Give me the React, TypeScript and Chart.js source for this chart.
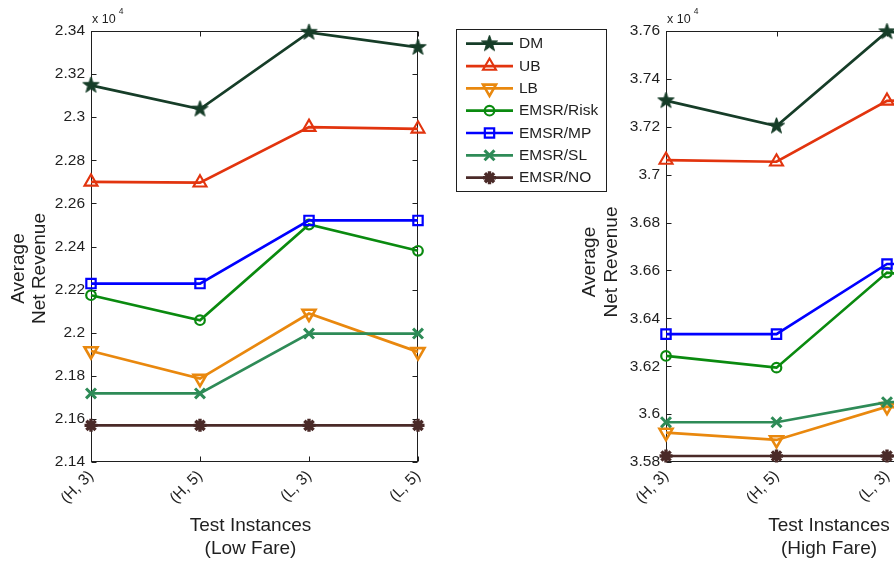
import React, { useEffect, useRef } from 'react';
import { Chart, registerables } from 'chart.js';
import { drawPoint } from 'chart.js/helpers';

Chart.register(...registerables);

const FONT = "'Liberation Sans', Arial, Helvetica, sans-serif";
const INK = '#1f1f1f';

// ---- data ---------------------------------------------------------------
const CATEGORIES = ['(H, 3)', '(H, 5)', '(L, 3)', '(L, 5)'];
const SERIES = ['DM', 'UB', 'LB', 'EMSR/Risk', 'EMSR/MP', 'EMSR/SL', 'EMSR/NO'];

// Average net revenue, low-fare instances
const LOW_DM = [23148, 23038, 23394, 23324];
const LOW_UB = [22700, 22696, 22954, 22946];
const LOW_LB = [21915, 21787, 22089, 21911];
const LOW_RISK = [22174, 22058, 22502, 22380];
const LOW_MP = [22228, 22228, 22521, 22521];
const LOW_SL = [21718, 21718, 21996, 21996];
const LOW_NO = [21570, 21570, 21570, 21570];

// Average net revenue, high-fare instances
const HIGH_DM = [37309, 37203, 37597, 37560];
const HIGH_UB = [37061, 37054, 37308, 37320];
const HIGH_LB = [35923, 35892, 36031, 35990];
const HIGH_RISK = [36243, 36194, 36591, 36540];
const HIGH_MP = [36334, 36334, 36627, 36627];
const HIGH_SL = [35966, 35966, 36050, 36050];
const HIGH_NO = [35825, 35825, 35825, 35825];

// y-axis ranges (raw units, labelled in units of 10^4)
const LOW_Y_MIN = 21400;
const LOW_Y_MAX = 23400;
const HIGH_Y_MIN = 35800;
const HIGH_Y_MAX = 37600;
const Y_STEP = 200;

const X_TITLE = 'Test Instances';
const Y_TITLE = ['Average', 'Net Revenue'];
const LOW_SUBTITLE = '(Low Fare)';
const HIGH_SUBTITLE = '(High Fare)';

// ---- marker styles ------------------------------------------------------
function makeStar(color: string, outer: number, inner: number) {
  const size = Math.ceil(outer * 2 + 2);
  const c = document.createElement('canvas');
  c.width = size;
  c.height = size;
  const g = c.getContext('2d')!;
  const cx = size / 2;
  const cy = size / 2;
  g.beginPath();
  for (let k = 0; k < 10; k++) {
    const r = k % 2 === 0 ? outer : inner;
    const a = -Math.PI / 2 + (k * Math.PI) / 5;
    const px = cx + r * Math.cos(a);
    const py = cy + r * Math.sin(a);
    if (k === 0) g.moveTo(px, py);
    else g.lineTo(px, py);
  }
  g.closePath();
  g.fillStyle = color;
  g.fill();
  g.strokeStyle = color;
  g.lineWidth = 1;
  g.stroke();
  return c;
}

const STYLES = [
  { color: '#163d28', point: 'pentagram', radius: 8.5, border: 1, rotation: 0 },
  { color: '#e2340e', point: 'triangle', radius: 7.5, border: 2.1, rotation: 0 },
  { color: '#e9880e', point: 'triangle', radius: 7.5, border: 2.6, rotation: 180 },
  { color: '#0a8a0f', point: 'circle', radius: 4.8, border: 2.2, rotation: 0 },
  { color: '#0000ff', point: 'rect', radius: 6.6, border: 2.2, rotation: 0 },
  { color: '#2e8b57', point: 'crossRot', radius: 7, border: 3, rotation: 0 },
  { color: '#4a2a28', point: 'star', radius: 6.5, border: 3.4, rotation: 0 },
];

function pointStyleFor(i: number): any {
  const s = STYLES[i];
  if (s.point === 'pentagram') return makeStar(s.color, s.radius, s.radius * 0.4);
  return s.point;
}

// ---- plugins ------------------------------------------------------------
const framePlugin = {
  id: 'panelFrame',
  beforeDatasetsDraw(chart: any) {
    const { ctx, chartArea, scales } = chart;
    const l = Math.round(chartArea.left) + 0.5;
    const r = Math.round(chartArea.right) - 0.5;
    const t = Math.round(chartArea.top) + 0.5;
    const b = Math.round(chartArea.bottom) - 0.5;
    const tick = 5;
    ctx.save();
    ctx.strokeStyle = INK;
    ctx.lineWidth = 1;
    ctx.strokeRect(l, t, r - l, b - t);
    ctx.beginPath();
    scales.y.ticks.forEach((tk: any) => {
      const py = Math.round(scales.y.getPixelForValue(tk.value)) + 0.5;
      ctx.moveTo(l, py);
      ctx.lineTo(l + tick, py);
      ctx.moveTo(r, py);
      ctx.lineTo(r - tick, py);
    });
    scales.x.ticks.forEach((_tk: any, i: number) => {
      const px = Math.round(scales.x.getPixelForTick(i)) + 0.5;
      ctx.moveTo(px, t);
      ctx.lineTo(px, t + tick);
      ctx.moveTo(px, b);
      ctx.lineTo(px, b - tick);
    });
    ctx.stroke();
    ctx.restore();
  },
};

const textPlugin = {
  id: 'panelText',
  afterDraw(chart: any, _args: any, opts: any) {
    const { ctx, chartArea } = chart;
    ctx.save();
    ctx.fillStyle = INK;

    // exponent marker above the y axis
    ctx.font = `12.5px ${FONT}`;
    ctx.textAlign = 'left';
    ctx.textBaseline = 'alphabetic';
    const expX = chartArea.left + 1;
    ctx.fillText('x 10', expX, 23);
    const w = ctx.measureText('x 10').width;
    ctx.font = `8.5px ${FONT}`;
    ctx.fillText('4', expX + w + 3, 14);

    // x-axis title
    ctx.font = `19px ${FONT}`;
    ctx.textAlign = 'center';
    ctx.fillText(X_TITLE, opts.xTitleX, 531);
    ctx.fillText(opts.subtitle, opts.xTitleX, 553.5);

    // y-axis title, rotated
    Y_TITLE.forEach((line: string, i: number) => {
      ctx.save();
      ctx.translate(opts.yTitleX[i], opts.yTitleY);
      ctx.rotate(-Math.PI / 2);
      ctx.textAlign = 'center';
      ctx.textBaseline = 'alphabetic';
      ctx.fillText(line, 0, 0);
      ctx.restore();
    });
    ctx.restore();
  },
};

const legendPlugin = {
  id: 'boxLegend',
  afterDraw(chart: any, _args: any, opts: any) {
    if (!opts.show) return;
    const { ctx } = chart;
    ctx.save();
    ctx.fillStyle = '#ffffff';
    ctx.fillRect(456, 29, 151, 163);
    ctx.strokeStyle = INK;
    ctx.lineWidth = 1;
    ctx.strokeRect(456.5, 29.5, 150, 162);
    chart.data.datasets.forEach((ds: any, i: number) => {
      const y = 43.7 + i * 22.33;
      ctx.strokeStyle = ds.borderColor;
      ctx.lineWidth = ds.borderWidth;
      ctx.beginPath();
      ctx.moveTo(466, y);
      ctx.lineTo(513, y);
      ctx.stroke();
      ctx.fillStyle = 'rgba(0,0,0,0)';
      ctx.strokeStyle = ds.pointBorderColor;
      ctx.lineWidth = ds.pointBorderWidth;
      drawPoint(
        ctx,
        {
          pointStyle: ds.pointStyle,
          radius: ds.pointRadius,
          borderWidth: ds.pointBorderWidth,
          rotation: ds.pointRotation,
        } as any,
        489.5,
        y
      );
      ctx.fillStyle = INK;
      ctx.font = `15.5px ${FONT}`;
      ctx.textAlign = 'left';
      ctx.textBaseline = 'middle';
      ctx.fillText(ds.label, 519, y + 0.5);
    });
    ctx.restore();
  },
};

// ---- chart config ------------------------------------------------------
function trimLabel(v: number) {
  return String(parseFloat((v / 1e4).toFixed(2)));
}

function buildConfig(p: {
  series: number[][];
  yMin: number;
  yMax: number;
  axisWidth: number;
  padRight: number;
  subtitle: string;
  xTitleX: number;
  yTitleX: number[];
  yTitleY: number;
  legend: boolean;
}): any {
  return {
    type: 'line',
    data: {
      labels: CATEGORIES,
      datasets: p.series.map((vals, i) => ({
        label: SERIES[i],
        data: vals,
        borderColor: STYLES[i].color,
        borderWidth: 2.7,
        pointStyle: pointStyleFor(i),
        pointRadius: STYLES[i].radius,
        pointBorderWidth: STYLES[i].border,
        pointBorderColor: STYLES[i].color,
        pointBackgroundColor: 'rgba(0,0,0,0)',
        pointRotation: STYLES[i].rotation,
        tension: 0,
        clip: false,
        order: SERIES.length - 1 - i,
      })),
    },
    options: {
      responsive: false,
      maintainAspectRatio: false,
      animation: false,
      events: [],
      layout: { padding: { left: 0, top: 31, right: p.padRight, bottom: 0 } },
      plugins: {
        legend: { display: false },
        tooltip: { enabled: false },
        panelText: {
          subtitle: p.subtitle,
          xTitleX: p.xTitleX,
          yTitleX: p.yTitleX,
          yTitleY: p.yTitleY,
        },
        boxLegend: { show: p.legend },
      },
      scales: {
        x: {
          type: 'category',
          offset: false,
          grid: { display: false, drawTicks: false },
          border: { display: false },
          ticks: {
            minRotation: 45,
            maxRotation: 45,
            autoSkip: false,
            padding: 5,
            color: INK,
            font: { size: 15.5, family: FONT },
          },
          afterFit: (s: any) => {
            s.height = 101;
          },
        },
        y: {
          type: 'linear',
          min: p.yMin,
          max: p.yMax,
          grid: { display: false, drawTicks: false },
          border: { display: false },
          ticks: {
            stepSize: Y_STEP,
            padding: 6,
            color: INK,
            font: { size: 15.5, family: FONT },
            callback: (v: any) => trimLabel(Number(v)),
          },
          afterFit: (s: any) => {
            s.width = p.axisWidth;
          },
        },
      },
    },
    plugins: [framePlugin, textPlugin, legendPlugin],
  };
}

export default function App() {
  const lowRef = useRef<HTMLCanvasElement>(null);
  const highRef = useRef<HTMLCanvasElement>(null);

  useEffect(() => {
    Chart.defaults.font.family = FONT;
    const low = new Chart(
      lowRef.current!,
      buildConfig({
        series: [LOW_DM, LOW_UB, LOW_LB, LOW_RISK, LOW_MP, LOW_SL, LOW_NO],
        yMin: LOW_Y_MIN,
        yMax: LOW_Y_MAX,
        axisWidth: 91,
        padRight: 202,
        subtitle: LOW_SUBTITLE,
        xTitleX: 250.5,
        yTitleX: [23.5, 45],
        yTitleY: 268.5,
        legend: true,
      })
    );
    const high = new Chart(
      highRef.current!,
      buildConfig({
        series: [HIGH_DM, HIGH_UB, HIGH_LB, HIGH_RISK, HIGH_MP, HIGH_SL, HIGH_NO],
        yMin: HIGH_Y_MIN,
        yMax: HIGH_Y_MAX,
        axisWidth: 106,
        padRight: 42.5,
        subtitle: HIGH_SUBTITLE,
        xTitleX: 269,
        yTitleX: [34.5, 56.5],
        yTitleY: 262,
        legend: false,
      })
    );
    return () => {
      low.destroy();
      high.destroy();
    };
  }, []);

  return (
    <div
      style={{
        position: 'fixed',
        left: 0,
        top: 0,
        width: 894,
        height: 563,
        overflow: 'hidden',
        background: '#ffffff',
      }}
    >
      <canvas
        ref={lowRef}
        width={620}
        height={563}
        style={{ position: 'absolute', left: 0, top: 0, width: 620, height: 563 }}
      />
      <canvas
        ref={highRef}
        width={480}
        height={563}
        style={{ position: 'absolute', left: 560, top: 0, width: 480, height: 563 }}
      />
    </div>
  );
}
